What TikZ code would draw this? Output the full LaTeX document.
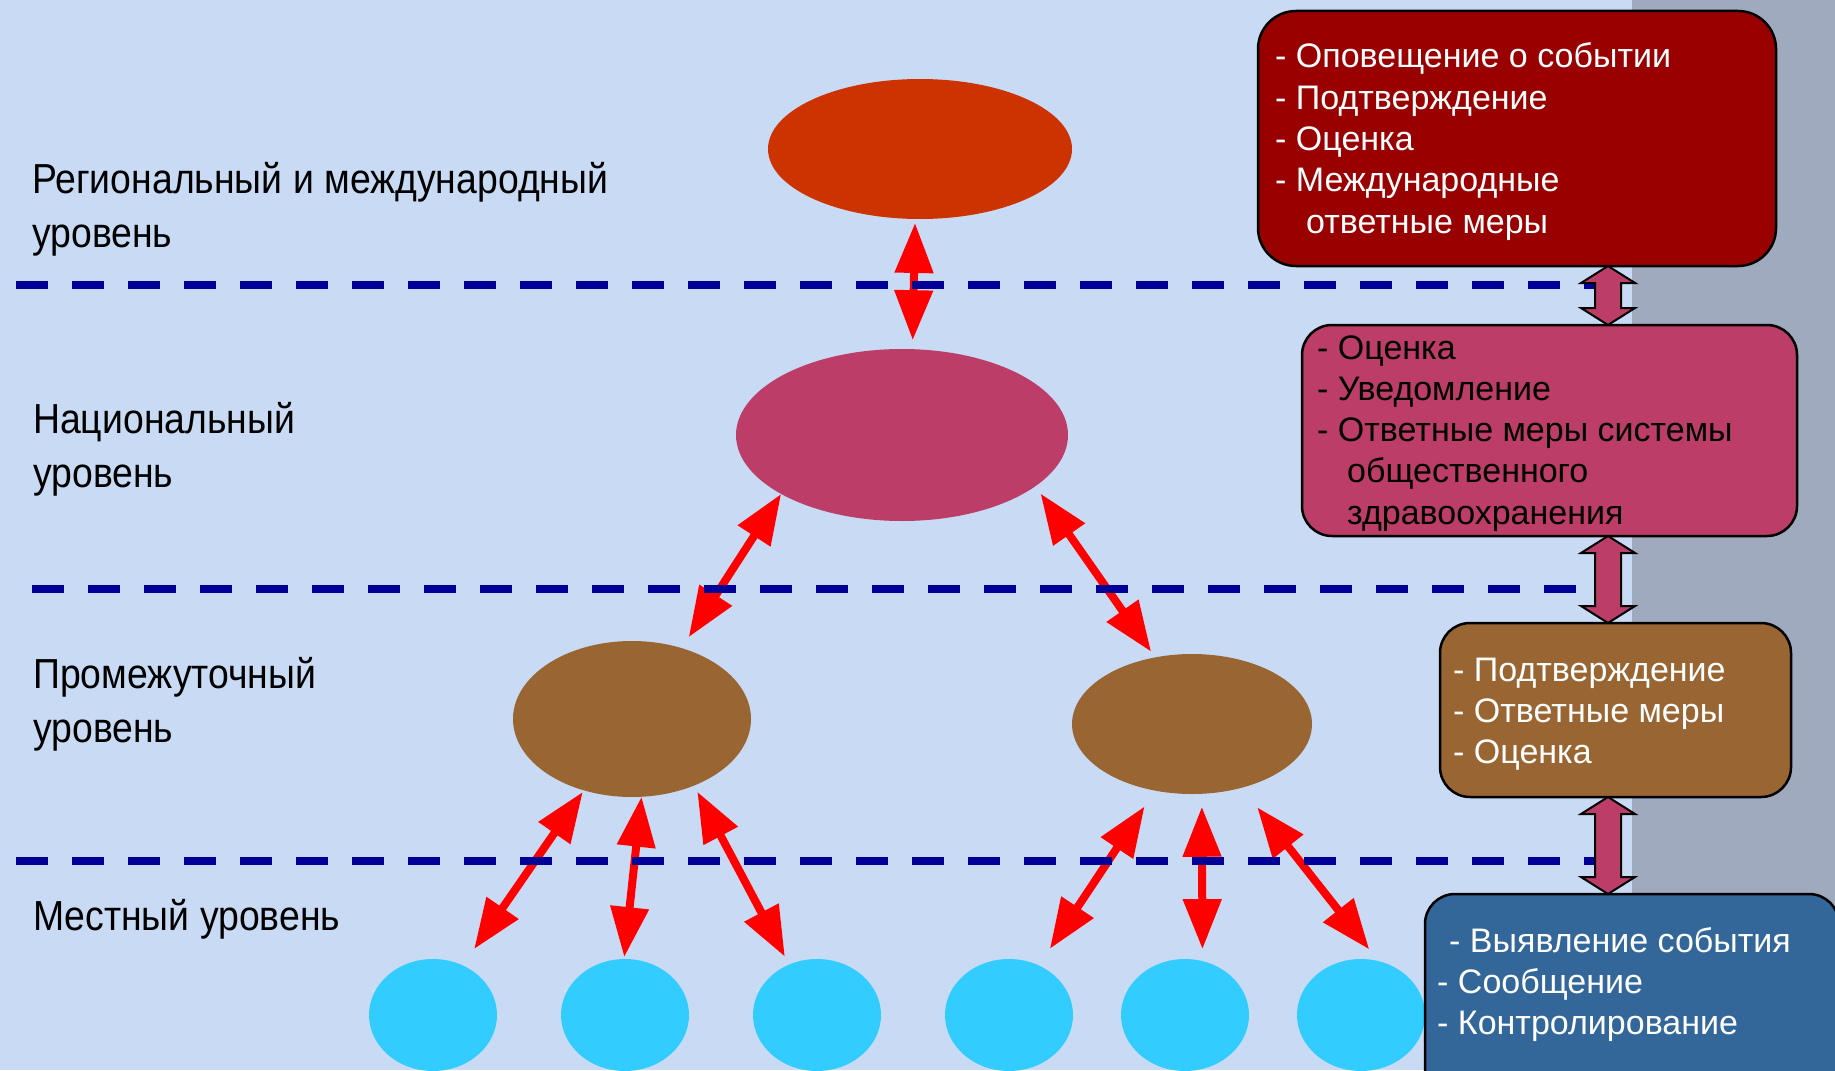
\documentclass[tikz,border=0pt]{standalone}
\usepackage{fontspec}
\setmainfont{Liberation Sans}
\newfontfamily\narrowfont[FakeStretch=0.89]{Liberation Sans}
\usetikzlibrary{shapes.geometric,arrows.meta,calc}

\definecolor{bgblue}{HTML}{C9DBF4}
\definecolor{stripgray}{HTML}{A0AABE}
\definecolor{regc}{HTML}{CC3300}
\definecolor{natc}{HTML}{BB3D68}
\definecolor{brownc}{HTML}{996633}
\definecolor{cyanc}{HTML}{33CCFF}
\definecolor{darkredc}{HTML}{990000}
\definecolor{blueboxc}{HTML}{336699}
\definecolor{sepblue}{HTML}{000099}
\definecolor{arrred}{HTML}{FF0000}

\newcommand{\blockconn}[2]{%
  \draw[blockarr] let \p1=(#1.south), \p2=(#2.north) in
    (1608pt,\y1) -- (1635pt,\y1-17pt) -- (1621pt,\y1-17pt) -- (1621pt,\y2+17pt)
    -- (1635pt,\y2+17pt) -- (1608pt,\y2) -- (1581pt,\y2+17pt) -- (1595pt,\y2+17pt)
    -- (1595pt,\y1-17pt) -- (1581pt,\y1-17pt) -- cycle;}

\begin{document}
\begin{tikzpicture}[x=1pt,y=-1pt,
  oval/.style={ellipse, inner sep=0pt, outer sep=0pt, draw=none},
  redarr/.style={draw=arrred, line width=8pt,
    arrows={Triangle[length=50pt,width=37pt]-Triangle[length=50pt,width=37pt]}},
  sepline/.style={draw=sepblue, line width=7.5pt, dash pattern=on 32pt off 24pt},
  infobox/.style={rectangle, draw=black, line width=2.5pt, inner sep=0pt, outer sep=0pt},
  boxtext/.style={anchor=base west, inner sep=0pt, font=\fontsize{34}{41.3}\selectfont},
  leveltext/.style={anchor=base west, inner sep=0pt, font=\narrowfont\fontsize{42}{54}\selectfont},
  blockarr/.style={fill=natc, draw=black, line width=2pt, line join=miter}
]
\useasboundingbox (0,0) rectangle (1835,1070);
\clip (0,0) rectangle (1835,1070);

% background
\fill[bgblue] (0,0) rectangle (1835,1070);
\fill[stripgray] (1632,0) rectangle (1835,1070);

% level ellipses
\node[oval, fill=regc, minimum width=304pt, minimum height=140pt] (reg) at (920,149) {};
\node[oval, fill=natc, minimum width=332pt, minimum height=172pt] (nat) at (902,435) {};
\node[oval, fill=brownc, minimum width=238pt, minimum height=156pt] (intL) at (632,719) {};
\node[oval, fill=brownc, minimum width=240pt, minimum height=140pt] (intR) at (1192,724) {};

% local circles
\foreach \n/\x in {1/433,2/625,3/817,4/1009,5/1185,6/1361}
  \node[oval, fill=cyanc, minimum width=128pt, minimum height=112pt] (c\n) at (\x,1015) {};

% red arrows
\draw[redarr, shorten <=4pt, shorten >=9pt] (reg.266.8) -- (nat.83.2);
\draw[redarr, shorten >=13pt] (nat.206.8) -- (intL.55.6);
\draw[redarr, shorten <=9pt, shorten >=7pt] (nat.339) -- (intR.119.9);
\draw[redarr, shorten <=2pt, shorten >=20pt] (intL.236.7) -- (c1.59.3);
\draw[redarr, shorten >=2pt] (intL.277.3) -- (c2.91.2);
\draw[redarr, shorten <=7pt, shorten >=9pt] (intL.313.3) -- (c3.119.9);
\draw[redarr, shorten <=19pt, shorten >=20pt] (intR.241.5) -- (c4.59.3);
\draw[redarr, shorten <=13pt, shorten >=12pt] (intR.278.2) -- (c5.72.5);
\draw[redarr, shorten <=25pt, shorten >=15pt] (intR.308.6) -- (c6.72.0);

% separators
\draw[sepline] (16,285) -- (1597,285);
\draw[sepline] (32,589) -- (1576,589);
\draw[sepline] (16,861) -- (1597,861);

% level labels
\node[leveltext] (lab1) at (32,193) {\begin{tabular}[t]{@{}l@{}}Региональный и международный\\уровень\end{tabular}};
\node[leveltext] (lab2) at (33,433) {\begin{tabular}[t]{@{}l@{}}Национальный\\уровень\end{tabular}};
\node[leveltext] (lab3) at (33,688) {\begin{tabular}[t]{@{}l@{}}Промежуточный\\уровень\end{tabular}};
\node[leveltext] (lab4) at (33,930) {Местный уровень};

% info boxes
\node[infobox, fill=darkredc, rounded corners=38pt, minimum width=518pt, minimum height=255pt] (b1) at (1517,138.5) {};
\node[infobox, fill=natc, rounded corners=30pt, minimum width=495pt, minimum height=211pt] (b2) at (1549.5,430.5) {};
\node[infobox, fill=brownc, rounded corners=30pt, minimum width=351pt, minimum height=174pt] (b3) at (1615.5,710) {};
\node[infobox, fill=blueboxc, rounded corners=30pt, minimum width=414pt, minimum height=214pt] (b4) at (1632,1001) {};

\node[boxtext, text=white] (t1) at (1275,68) {\begin{tabular}[t]{@{}l@{}}- Оповещение о событии\\- Подтверждение\\- Оценка\\- Международные\\\hspace*{31pt}ответные меры\end{tabular}};
\node[boxtext, text=black] (t2) at (1317,359) {\begin{tabular}[t]{@{}l@{}}- Оценка\\- Уведомление\\- Ответные меры системы\\\hspace*{30pt}общественного\\\hspace*{30pt}здравоохранения\end{tabular}};
\node[boxtext, text=white] (t3) at (1453,681) {\begin{tabular}[t]{@{}l@{}}- Подтверждение\\- Ответные меры\\- Оценка\end{tabular}};
\node[boxtext, text=white] (t4) at (1437,952) {\begin{tabular}[t]{@{}l@{}}\hspace*{12pt}- Выявление события\\- Сообщение\\- Контролирование\end{tabular}};

% block arrows between boxes
\blockconn{b1}{b2}
\blockconn{b2}{b3}
\blockconn{b3}{b4}
\end{tikzpicture}
\end{document}
